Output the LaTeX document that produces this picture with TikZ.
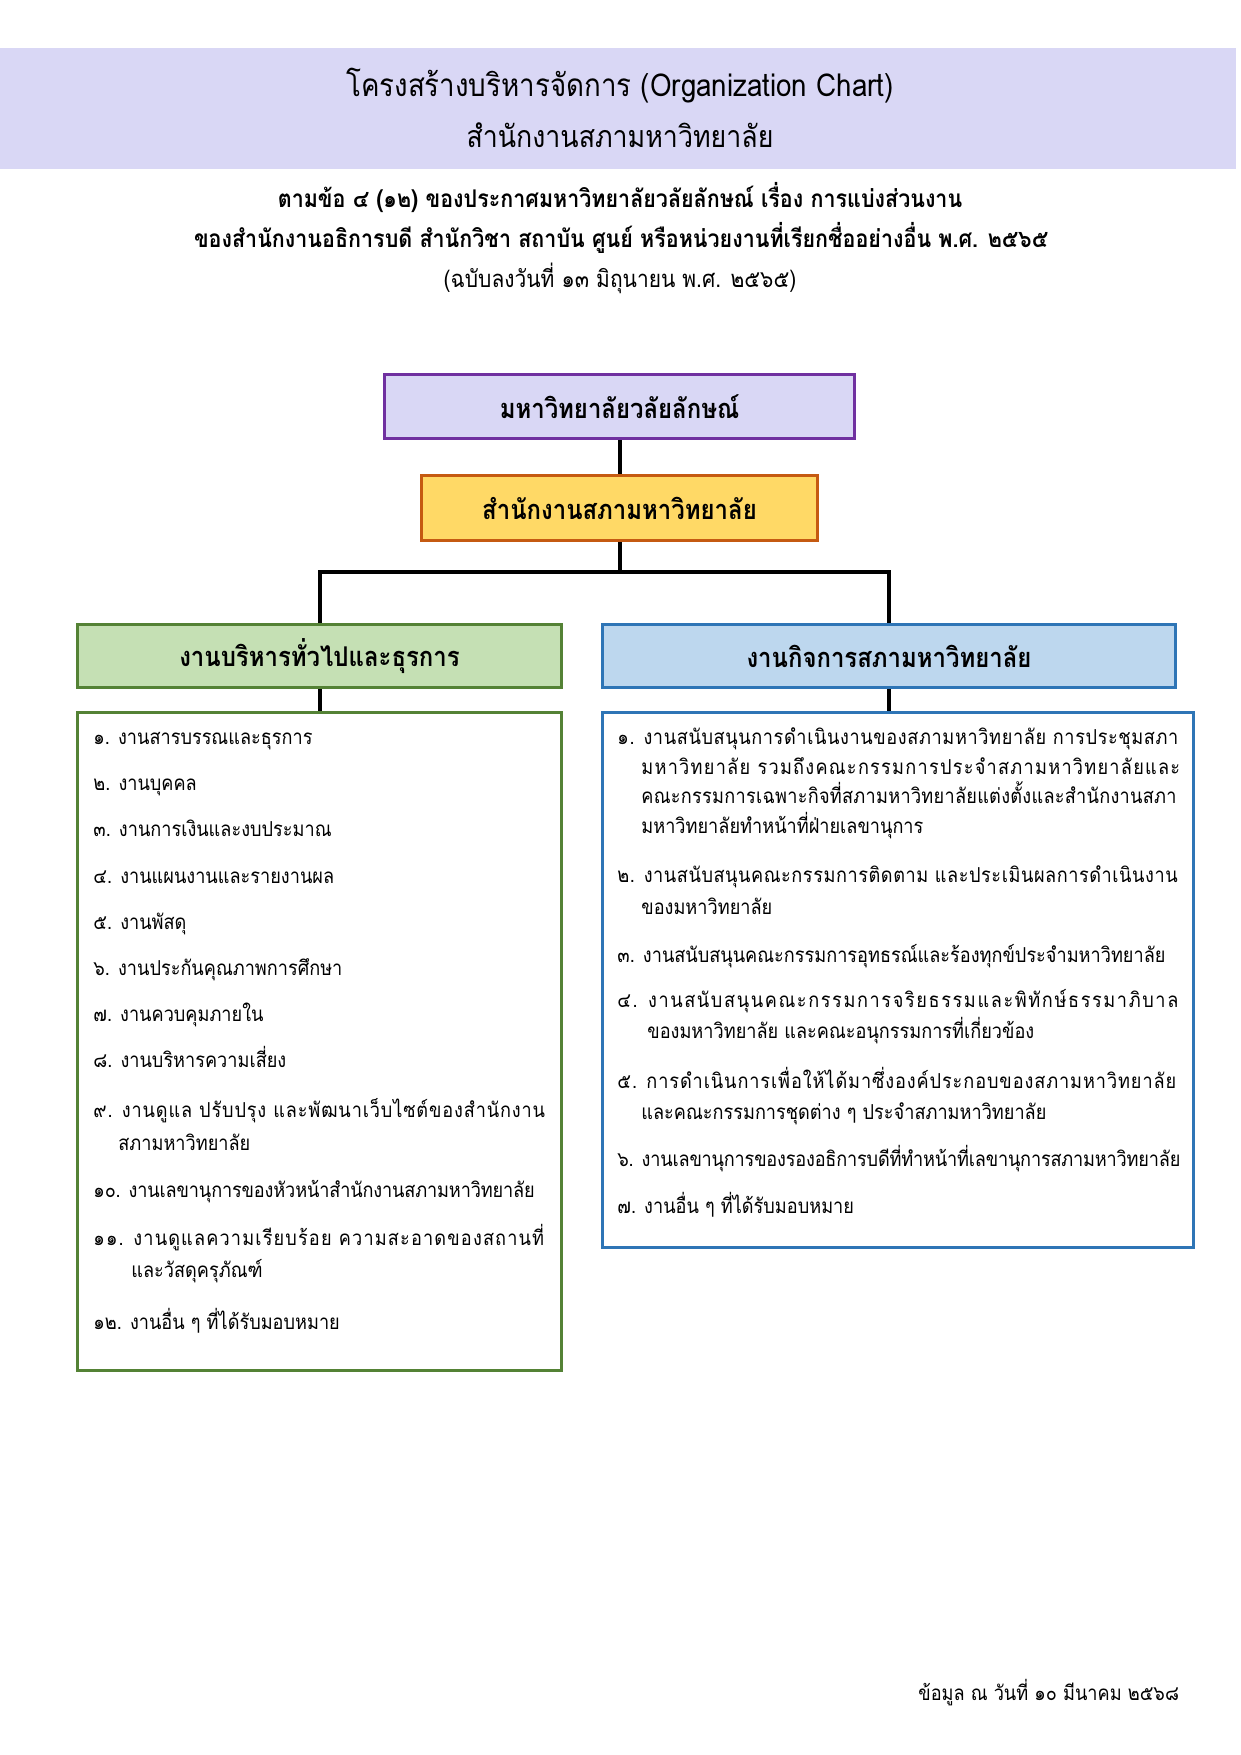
\documentclass[tikz,border=0pt]{standalone}
\usepackage{fontspec}
\setmainfont[Script=Thai, FakeStretch=0.88]{Loma}
\newfontfamily\thai[Script=Thai, FakeStretch=0.88]{Loma}
\definecolor{bandc}{HTML}{D9D7F5}
\definecolor{purp}{HTML}{7030A0}
\definecolor{yel}{HTML}{FFD966}
\definecolor{orn}{HTML}{C55A11}
\definecolor{grnf}{HTML}{C5E0B4}
\definecolor{grnd}{HTML}{548235}
\definecolor{bluf}{HTML}{BDD7EE}
\definecolor{blud}{HTML}{2E75B6}
\tikzset{
  txt/.style={inner sep=0pt, anchor=mid},
  ttl/.style={txt, font=\thai\fontsize{#1}{18}\selectfont},
  sub/.style={txt, font=\thai\bfseries\fontsize{12.2}{14}\selectfont},
  subr/.style={txt, font=\thai\fontsize{11.9}{14}\selectfont},
  orgbox/.style={draw, line width=1.5pt, rectangle, inner sep=0pt, font=\thai\bfseries\fontsize{13.6}{16}\selectfont},
  listbox/.style={draw, line width=1.5pt, rectangle, inner sep=0pt, fill=white},
  litem/.style={inner sep=0pt, anchor=mid west, font=\thai\fontsize{10.3}{13}\selectfont},
  jitem/.style={inner sep=0pt, anchor=mid west, font={\thai\fontsize{10.3}{13}\selectfont\addfontfeature{LetterSpace=#1}}},
  conn/.style={line width=2pt, black},
}
\begin{document}
\begin{tikzpicture}[x=0.5pt, y=-0.5pt]
\useasboundingbox (0,0) rectangle (1241,1755);
% header band
\fill[bandc] (0,48) rectangle (1236,169);
\node[ttl=15.75] (t1) at (620,91) {โครงสร้างบริหารจัดการ (Organization Chart)};
\node[ttl=15.2] (t2) at (620,142) {สำนักงานสภามหาวิทยาลัย};
\node[sub] (s1) at (620,202) {ตามข้อ ๔ (๑๒) ของประกาศมหาวิทยาลัยวลัยลักษณ์ เรื่อง การแบ่งส่วนงาน};
\node[sub] (s2) at (621,242) {ของสำนักงานอธิการบดี สำนักวิชา สถาบัน ศูนย์ หรือหน่วยงานที่เรียกชื่ออย่างอื่น พ.ศ. ๒๕๖๕};
\node[subr] (s3) at (620,282) {(ฉบับลงวันที่ ๑๓ มิถุนายน พ.ศ. ๒๕๖๕)};
% org boxes
\node[orgbox, fill=bandc, draw=purp, minimum width=235pt, minimum height=32pt] (top) at (619.5,406.5) {มหาวิทยาลัยวลัยลักษณ์};
\node[orgbox, fill=yel, draw=orn, minimum width=198pt, minimum height=32.5pt] (sec) at (619.5,508) {สำนักงานสภามหาวิทยาลัย};
\node[orgbox, fill=grnf, draw=grnd, minimum width=242pt, minimum height=31.5pt] (gh) at (319.5,656) {งานบริหารทั่วไปและธุรการ};
\node[orgbox, fill=bluf, draw=blud, minimum width=286.5pt, minimum height=31.5pt] (bh) at (889,656) {งานกิจการสภามหาวิทยาลัย};
\node[listbox, draw=grnd, minimum width=242pt, minimum height=329pt] (gl) at (319.5,1041.5) {};
\node[listbox, draw=blud, minimum width=295.5pt, minimum height=267.5pt] (bl) at (898,980) {};
% connectors
\coordinate (bar) at (619.5,572);
\draw[conn] (top.south) -- (sec.north);
\draw[conn] (sec.south) -- (bar);
\draw[conn] (gh.north) |- (bar) -| (bh.north);
\draw[conn] (gh.south) -- (gh.south |- gl.north);
\draw[conn] (bh.south) -- (bh.south |- bl.north);
% left list
\node[litem] (l1) at (93,739) {๑. งานสารบรรณและธุรการ};
\node[litem] (l2) at (93,785) {๒. งานบุคคล};
\node[litem] (l3) at (93,831) {๓. งานการเงินและงบประมาณ};
\node[litem] (l4) at (93,878) {๔. งานแผนงานและรายงานผล};
\node[litem] (l5) at (93,924) {๕. งานพัสดุ};
\node[litem] (l6) at (93,970) {๖. งานประกันคุณภาพการศึกษา};
\node[litem] (l7) at (93,1016) {๗. งานควบคุมภายใน};
\node[litem] (l8) at (93,1062) {๘. งานบริหารความเสี่ยง};
\node[jitem=4.2] (l9) at (93,1112) {๙. งานดูแล ปรับปรุง และพัฒนาเว็บไซต์ของสำนักงาน};
\node[litem] (l9b) at (118,1145) {สภามหาวิทยาลัย};
\node[jitem=-0.7] (l10) at (93,1192) {๑๐. งานเลขานุการของหัวหน้าสำนักงานสภามหาวิทยาลัย};
\node[jitem=5.6] (l11) at (93,1240) {๑๑. งานดูแลความเรียบร้อย ความสะอาดของสถานที่};
\node[litem] (l11b) at (131,1272) {และวัสดุครุภัณฑ์};
\node[litem] (l12) at (93,1324) {๑๒. งานอื่น ๆ ที่ได้รับมอบหมาย};
% right list
\node[jitem=3.0] (r1) at (617,739) {๑. งานสนับสนุนการดำเนินงานของสภามหาวิทยาลัย การประชุมสภา};
\node[jitem=6.1] (r1b) at (641,769) {มหาวิทยาลัย รวมถึงคณะกรรมการประจำสภามหาวิทยาลัยและ};
\node[jitem=1.3] (r1c) at (641,798) {คณะกรรมการเฉพาะกิจที่สภามหาวิทยาลัยแต่งตั้งและสำนักงานสภา};
\node[litem] (r1d) at (641,828) {มหาวิทยาลัยทำหน้าที่ฝ่ายเลขานุการ};
\node[jitem=2.7] (r2) at (617,877) {๒. งานสนับสนุนคณะกรรมการติดตาม และประเมินผลการดำเนินงาน};
\node[litem] (r2b) at (641,909) {ของมหาวิทยาลัย};
\node[litem] (r3) at (617,957) {๓. งานสนับสนุนคณะกรรมการอุทธรณ์และร้องทุกข์ประจำมหาวิทยาลัย};
\node[jitem=7.8] (r4) at (617,1002) {๔. งานสนับสนุนคณะกรรมการจริยธรรมและพิทักษ์ธรรมาภิบาล};
\node[litem] (r4b) at (647,1033) {ของมหาวิทยาลัย และคณะอนุกรรมการที่เกี่ยวข้อง};
\node[jitem=4.4] (r5) at (617,1083) {๕. การดำเนินการเพื่อให้ได้มาซึ่งองค์ประกอบของสภามหาวิทยาลัย};
\node[litem] (r5b) at (641,1114) {และคณะกรรมการชุดต่าง ๆ ประจำสภามหาวิทยาลัย};
\node[jitem=-0.9] (r6) at (617,1161) {๖. งานเลขานุการของรองอธิการบดีที่ทำหน้าที่เลขานุการสภามหาวิทยาลัย};
\node[litem] (r7) at (617,1208) {๗. งานอื่น ๆ ที่ได้รับมอบหมาย};
% footer
\node[litem] (foot) at (918,1695) {ข้อมูล ณ วันที่ ๑๐ มีนาคม ๒๕๖๘};
\end{tikzpicture}
\end{document}
